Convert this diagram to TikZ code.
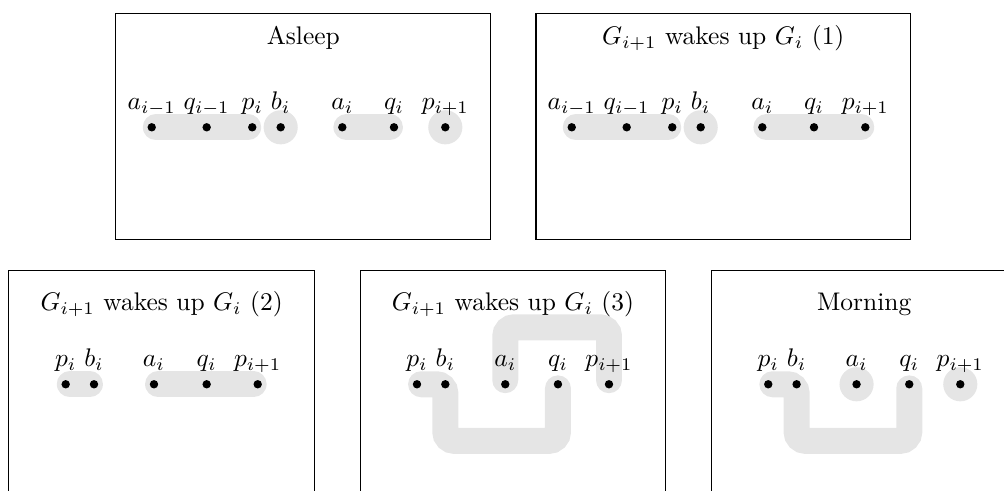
\documentclass[tikz,border=0pt]{standalone}
\usetikzlibrary{backgrounds}

\tikzset{
    dot/.style={circle, fill=black, inner sep=0pt, minimum size=3.3pt},
    lbl/.style={inner sep=0pt, text depth=0pt, yshift=4.9pt},
    blob/.style={draw=black!10, line width=10.2pt, line cap=round, rounded corners=3.5pt,
        shorten <=1.6pt, shorten >=1.6pt},
    lone/.style={fill=black!10},
}

\begin{document}
\begin{tikzpicture}
        \useasboundingbox (0, 0) rectangle (13.85, 6.773);
        \clip (0, 0) rectangle (13.85, 6.773);

        \foreach \bx/\sx/\title in {A/0/Asleep, B/5.794/{$G_{i+1}$ wakes up $G_i$ (1)}} {
            \begin{scope}[xshift=\sx cm]
                \draw (1.600, 3.463) rectangle (6.769, 6.590);
                \node[anchor=base] (\bx-title) at (4.184, 6.159) {\title};
                \foreach \n/\x/\t in {a1/2.093/a_{i-1}, q1/2.851/q_{i-1}, p/3.480/p_i, b/3.872/b_i,
                        a/4.722/a_i, q/5.435/q_i, p1/6.143/p_{i+1}}
                    \node[dot, label={[lbl]above:$\t$}] (\bx-\n) at (\x, 5.017) {};
            \end{scope}
        }

        \foreach \bx/\sx/\title in {C/0/{$G_{i+1}$ wakes up $G_i$ (2)}, D/4.846/{$G_{i+1}$ wakes up $G_i$ (3)},
                E/9.692/Morning} {
            \begin{scope}[xshift=\sx cm]
                \draw (0.124, -0.09) rectangle (4.336, 3.039);
                \node[anchor=base] (\bx-title) at (2.230, 2.490) {\title};
                \foreach \n/\x/\t in {p/0.906/p_i, b/1.297/b_i, a/2.124/a_i, q/2.851/q_i, p1/3.555/p_{i+1}}
                    \node[dot, label={[lbl]above:$\t$}] (\bx-\n) at (\x, 1.472) {};
            \end{scope}
        }

        \begin{scope}[on background layer]
            \draw[blob] (A-a1.center) -- (A-q1.center) -- (A-p.center);
            \fill[lone] (A-b) circle (6.7pt);
            \draw[blob] (A-a.center) -- (A-q.center);
            \fill[lone] (A-p1) circle (6.7pt);

            \draw[blob] (B-a1.center) -- (B-q1.center) -- (B-p.center);
            \fill[lone] (B-b) circle (6.7pt);
            \draw[blob] (B-a.center) -- (B-q.center) -- (B-p1.center);

            \draw[blob] (C-p.center) -- (C-b.center);
            \draw[blob] (C-a.center) -- (C-q.center) -- (C-p1.center);

            \draw[blob] (D-p.center) -- (D-b.center) -- ++(0, -0.78) -| (D-q.center);
            \draw[blob] (D-a.center) -- ++(0, 0.786) -| (D-p1.center);

            \draw[blob] (E-p.center) -- (E-b.center) -- ++(0, -0.78) -| (E-q.center);
            \fill[lone] (E-a) circle (6.7pt);
            \fill[lone] (E-p1) circle (6.7pt);
        \end{scope}
    \end{tikzpicture}
\end{document}
